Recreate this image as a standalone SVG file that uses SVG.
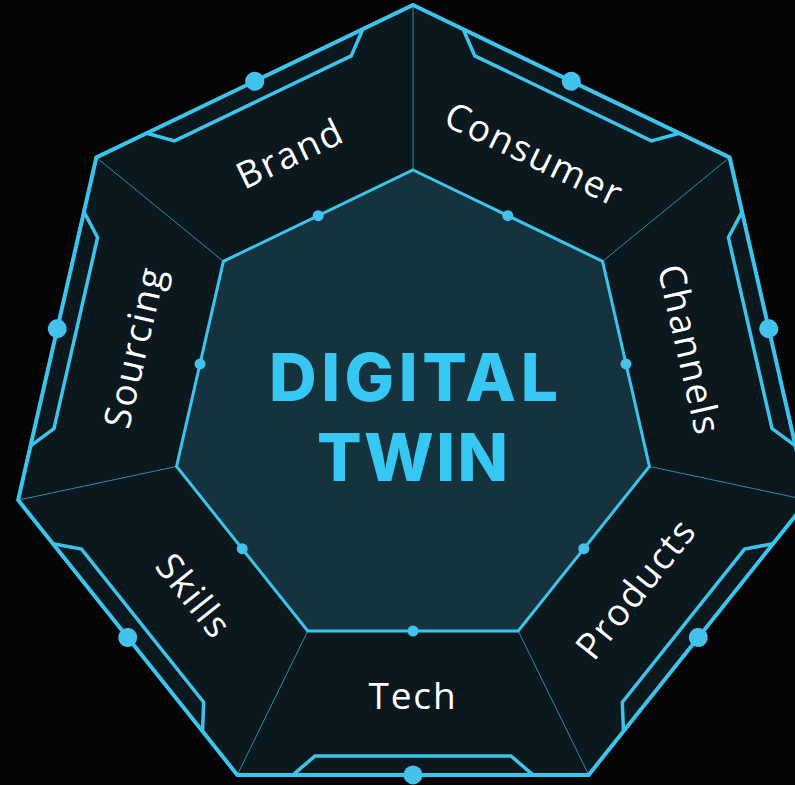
<svg xmlns="http://www.w3.org/2000/svg" width="795" height="785" viewBox="0 0 795 785">
<style>
.seg{fill:#0b191f;stroke:none}
.div{stroke:#2b8db1;stroke-width:1}
.frame{fill:none;stroke:#3cc4ec;stroke-width:4;stroke-linejoin:miter}
.trace{fill:none;stroke:#3cc4ec;stroke-width:3.5;stroke-linejoin:miter}
.odot{fill:#46c1eb}
.idot{fill:#46c1eb}
.core{fill:#15333f;stroke:#3cc4ec;stroke-width:3}
.lbl{font-family:"Open Sans","Noto Sans",sans-serif;font-size:37px;fill:#ffffff;text-anchor:middle;letter-spacing:1.8px}
.title{font-family:Inter,"Open Sans","Liberation Sans",sans-serif;font-weight:800;font-size:66px;fill:#36c8f2;text-anchor:middle}
</style>
<defs>
<g id="edgeDeco">
<polyline class="trace" points="293,774.89 315,755.89 511,755.89 533,774.89"/>
<circle class="odot" cx="413" cy="774.89" r="9.5"/>
</g>
</defs>
<rect width="795" height="785" fill="#050505"/>
<g id="seg-consumer">
<polygon class="seg" points="413,5 729.64,157.49 602.59,261.30 413,170"/>
<use href="#edgeDeco" transform="rotate(-154.2857 413 410)"/>
<text class="lbl" transform="translate(534.5,154.5) rotate(25.714)" y="13">Consumer</text>
</g>
<g id="seg-channels">
<polygon class="seg" points="729.64,157.49 807.85,500.12 649.42,466.46 602.59,261.30"/>
<use href="#edgeDeco" transform="rotate(-102.8571 413 410)"/>
<text class="lbl" transform="translate(689.5,350) rotate(77.143)" y="13">Channels</text>
</g>
<g id="seg-products">
<polygon class="seg" points="807.85,500.12 588.72,774.89 518.22,630.99 649.42,466.46"/>
<use href="#edgeDeco" transform="rotate(-51.4286 413 410)"/>
<text class="lbl" transform="translate(635.82,588.5) rotate(-51.429)" y="13">Products</text>
</g>
<g id="seg-tech">
<polygon class="seg" points="588.72,774.89 237.28,774.89 307.78,630.99 518.22,630.99"/>
<use href="#edgeDeco"/>
<text class="lbl" transform="translate(413,695.5)" y="13">Tech</text>
</g>
<g id="seg-skills">
<polygon class="seg" points="237.28,774.89 18.15,500.12 176.58,466.46 307.78,630.99"/>
<use href="#edgeDeco" transform="rotate(51.4286 413 410)"/>
<text class="lbl" transform="translate(194,596) rotate(51.429)" y="13">Skills</text>
</g>
<g id="seg-sourcing">
<polygon class="seg" points="18.15,500.12 96.36,157.49 223.41,261.30 176.58,466.46"/>
<use href="#edgeDeco" transform="rotate(102.8571 413 410)"/>
<text class="lbl" transform="translate(134.5,347) rotate(-77.143)" y="13">Sourcing</text>
</g>
<g id="seg-brand">
<polygon class="seg" points="96.36,157.49 413,5 413,170 223.41,261.30"/>
<use href="#edgeDeco" transform="rotate(154.2857 413 410)"/>
<text class="lbl" transform="translate(290,153.5) rotate(-25.714)" y="13">Brand</text>
</g>
<g id="connectors">
<line class="div" x1="413" y1="5" x2="413" y2="170"/>
<line class="div" x1="729.64" y1="157.49" x2="602.59" y2="261.30"/>
<line class="div" x1="807.85" y1="500.12" x2="649.42" y2="466.46"/>
<line class="div" x1="588.72" y1="774.89" x2="518.22" y2="630.99"/>
<line class="div" x1="237.28" y1="774.89" x2="307.78" y2="630.99"/>
<line class="div" x1="18.15" y1="500.12" x2="176.58" y2="466.46"/>
<line class="div" x1="96.36" y1="157.49" x2="223.41" y2="261.30"/>
</g>
<g id="frame">
<polygon class="frame" points="413,5 729.64,157.49 807.85,500.12 588.72,774.89 237.28,774.89 18.15,500.12 96.36,157.49"/>
</g>
<g id="digital-twin">
<polygon class="core" points="413,170 602.59,261.30 649.42,466.46 518.22,630.99 307.78,630.99 176.58,466.46 223.41,261.30"/>
<circle class="idot" cx="507.80" cy="215.65" r="5.5"/>
<circle class="idot" cx="626.0" cy="363.88" r="5.5"/>
<circle class="idot" cx="583.82" cy="548.73" r="5.5"/>
<circle class="idot" cx="413" cy="630.99" r="5.5"/>
<circle class="idot" cx="242.18" cy="548.73" r="5.5"/>
<circle class="idot" cx="200.0" cy="363.88" r="5.5"/>
<circle class="idot" cx="318.20" cy="215.65" r="5.5"/>
<text class="title" x="413.5" y="401" textLength="289" lengthAdjust="spacing">DIGITAL</text>
<text class="title" x="412.5" y="481" textLength="191" lengthAdjust="spacing">TWIN</text>
</g>
</svg>
